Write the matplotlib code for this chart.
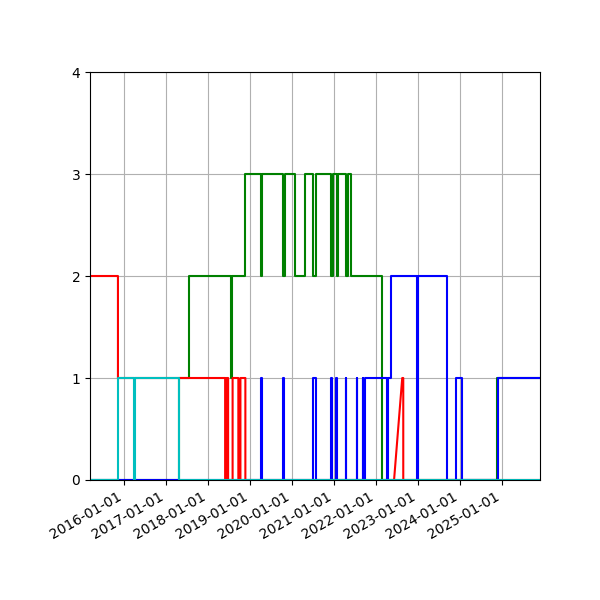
import pandas as pd
import matplotlib
matplotlib.use('Agg')
import matplotlib.pyplot as plt
import matplotlib.dates as mdates

# step series as (date, value) pairs, repeated dates give vertical edges
red_dates = ['2015-03-10', '2015-11-08', '2015-11-08', '2018-05-28', '2018-05-28', '2018-06-10', '2018-06-10',
             '2018-06-23', '2018-06-23', '2018-08-01', '2018-08-01', '2018-09-20', '2018-09-20', '2018-10-08',
             '2018-10-08', '2018-11-20', '2018-11-20', '2022-06-05', '2022-08-15', '2022-08-24', '2022-08-24',
             '2025-11-25']
red_vals = [2, 2, 1, 1, 0, 0, 1, 1, 0, 0, 1, 1, 0, 0, 1, 1, 0, 0, 1, 1, 0, 0]

green_dates = ['2015-03-10', '2017-04-25', '2017-04-25', '2017-07-20', '2017-07-20', '2018-07-20', '2018-07-20',
               '2018-07-28', '2018-07-28', '2018-11-20', '2018-11-20', '2019-04-05', '2019-04-05', '2019-04-12',
               '2019-04-12', '2019-10-15', '2019-10-15', '2019-11-01', '2019-11-01', '2020-01-25', '2020-01-25',
               '2020-04-20', '2020-04-20', '2020-07-01', '2020-07-01', '2020-07-25', '2020-07-25', '2020-12-05',
               '2020-12-05', '2020-12-25', '2020-12-25', '2021-01-28', '2021-01-28', '2021-02-05', '2021-02-05',
               '2021-04-10', '2021-04-10', '2021-04-28', '2021-04-28', '2021-05-24', '2021-05-24', '2022-02-20',
               '2022-02-20', '2024-11-20', '2024-11-20', '2025-11-25']
green_vals = [0, 0, 1, 1, 2, 2, 1, 1, 2, 2, 3, 3, 2, 2, 3, 3, 2, 2, 3, 3, 2, 2, 3, 3, 2, 2, 3, 3, 2, 2, 3, 3,
              2, 2, 3, 3, 2, 2, 3, 3, 2, 2, 0, 0, 1, 1]

blue_spikes = [('2019-04-05', '2019-04-12'), ('2019-10-15', '2019-10-22'), ('2020-07-01', '2020-07-25'),
               ('2020-12-05', '2020-12-12'), ('2021-01-20', '2021-01-27'), ('2021-04-10', '2021-04-17'),
               ('2021-07-15', '2021-07-22'), ('2021-09-05', '2021-09-12')]
blue_tail_dates = ['2021-09-25', '2021-09-25', '2022-04-06', '2022-04-06', '2022-04-14', '2022-04-14', '2022-05-10',
                   '2022-05-10', '2022-12-25', '2022-12-25', '2023-01-01', '2023-01-01', '2023-09-10', '2023-09-10',
                   '2023-11-28', '2023-11-28', '2024-01-20', '2024-01-20', '2024-11-28', '2024-11-28', '2025-11-25']
blue_tail_vals = [0, 1, 1, 0, 0, 1, 1, 2, 2, 0, 0, 2, 2, 0, 0, 1, 1, 0, 0, 1, 1]

cyan_dates = ['2015-03-10', '2015-11-08', '2015-11-08', '2016-03-27', '2016-03-27', '2016-04-03', '2016-04-03',
              '2017-04-25', '2017-04-25', '2025-11-25']
cyan_vals = [0, 0, 1, 1, 0, 0, 1, 1, 0, 0]

blue_dates = ['2015-03-10']
blue_vals = [0]
for a, b in blue_spikes:
    blue_dates += [a, a, b, b]
    blue_vals += [0, 1, 1, 0]
blue_dates += blue_tail_dates
blue_vals += blue_tail_vals

fig, ax = plt.subplots(figsize=(6, 6), dpi=100)
fig.subplots_adjust(left=0.15, right=0.9, top=0.88, bottom=0.2)

ax.plot(pd.to_datetime(green_dates), green_vals, color='g')
ax.plot(pd.to_datetime(blue_dates), blue_vals, color='b')
ax.plot(pd.to_datetime(red_dates), red_vals, color='r')
ax.plot(pd.to_datetime(cyan_dates), cyan_vals, color='c')

ax.set_xlim(pd.Timestamp('2015-03-10'), pd.Timestamp('2025-11-25'))
ax.set_ylim(0, 4)
ax.set_yticks([0, 1, 2, 3, 4])
ax.xaxis.set_major_locator(mdates.YearLocator())
ax.xaxis.set_major_formatter(mdates.DateFormatter('%Y-%m-%d'))
ax.grid(True)
fig.autofmt_xdate()
fig.subplots_adjust(left=0.15, right=0.9, top=0.88, bottom=0.2)

fig.savefig('out.png')
